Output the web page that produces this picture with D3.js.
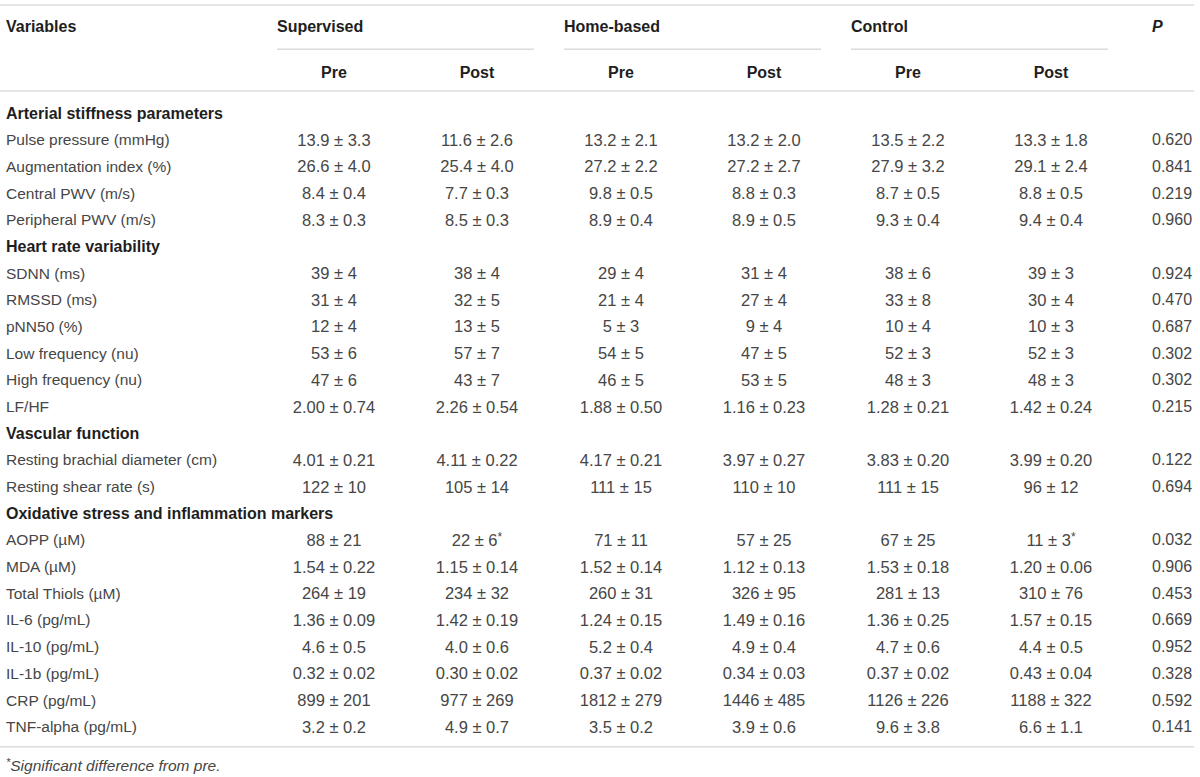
<!DOCTYPE html>
<html>
<head>
<meta charset="utf-8">
<script src="https://cdn.jsdelivr.net/npm/d3@7"></script>
<style>
  body { margin: 0; background: #fff; }
  text { font-family: "Liberation Sans", Arial, sans-serif; }
</style>
</head>
<body>
<div id="table"></div>
<script>
// Table content
const groups = ["Supervised", "Home-based", "Control"];
const phases = ["Pre", "Post"];
const sectionTitles = [
    "Arterial stiffness parameters",
    "Heart rate variability",
    "Vascular function",
    "Oxidative stress and inflammation markers"
];
const sectionSizes = [4, 6, 2, 8];
const variables = [
    "Pulse pressure (mmHg)", "Augmentation index (%)", "Central PWV (m/s)", "Peripheral PWV (m/s)",
    "SDNN (ms)", "RMSSD (ms)", "pNN50 (%)", "Low frequency (nu)", "High frequency (nu)", "LF/HF",
    "Resting brachial diameter (cm)", "Resting shear rate (s)",
    "AOPP (\u00b5M)", "MDA (\u00b5M)", "Total Thiols (\u00b5M)", "IL-6 (pg/mL)", "IL-10 (pg/mL)",
    "IL-1b (pg/mL)", "CRP (pg/mL)", "TNF-alpha (pg/mL)"
];
const supervisedPre = ["13.9 ± 3.3", "26.6 ± 4.0", "8.4 ± 0.4", "8.3 ± 0.3",
    "39 ± 4", "31 ± 4", "12 ± 4", "53 ± 6", "47 ± 6", "2.00 ± 0.74",
    "4.01 ± 0.21", "122 ± 10",
    "88 ± 21", "1.54 ± 0.22", "264 ± 19", "1.36 ± 0.09", "4.6 ± 0.5", "0.32 ± 0.02", "899 ± 201", "3.2 ± 0.2"];
const supervisedPost = ["11.6 ± 2.6", "25.4 ± 4.0", "7.7 ± 0.3", "8.5 ± 0.3",
    "38 ± 4", "32 ± 5", "13 ± 5", "57 ± 7", "43 ± 7", "2.26 ± 0.54",
    "4.11 ± 0.22", "105 ± 14",
    "22 ± 6*", "1.15 ± 0.14", "234 ± 32", "1.42 ± 0.19", "4.0 ± 0.6", "0.30 ± 0.02", "977 ± 269", "4.9 ± 0.7"];
const homePre = ["13.2 ± 2.1", "27.2 ± 2.2", "9.8 ± 0.5", "8.9 ± 0.4",
    "29 ± 4", "21 ± 4", "5 ± 3", "54 ± 5", "46 ± 5", "1.88 ± 0.50",
    "4.17 ± 0.21", "111 ± 15",
    "71 ± 11", "1.52 ± 0.14", "260 ± 31", "1.24 ± 0.15", "5.2 ± 0.4", "0.37 ± 0.02", "1812 ± 279", "3.5 ± 0.2"];
const homePost = ["13.2 ± 2.0", "27.2 ± 2.7", "8.8 ± 0.3", "8.9 ± 0.5",
    "31 ± 4", "27 ± 4", "9 ± 4", "47 ± 5", "53 ± 5", "1.16 ± 0.23",
    "3.97 ± 0.27", "110 ± 10",
    "57 ± 25", "1.12 ± 0.13", "326 ± 95", "1.49 ± 0.16", "4.9 ± 0.4", "0.34 ± 0.03", "1446 ± 485", "3.9 ± 0.6"];
const controlPre = ["13.5 ± 2.2", "27.9 ± 3.2", "8.7 ± 0.5", "9.3 ± 0.4",
    "38 ± 6", "33 ± 8", "10 ± 4", "52 ± 3", "48 ± 3", "1.28 ± 0.21",
    "3.83 ± 0.20", "111 ± 15",
    "67 ± 25", "1.53 ± 0.18", "281 ± 13", "1.36 ± 0.25", "4.7 ± 0.6", "0.37 ± 0.02", "1126 ± 226", "9.6 ± 3.8"];
const controlPost = ["13.3 ± 1.8", "29.1 ± 2.4", "8.8 ± 0.5", "9.4 ± 0.4",
    "39 ± 3", "30 ± 4", "10 ± 3", "52 ± 3", "48 ± 3", "1.42 ± 0.24",
    "3.99 ± 0.20", "96 ± 12",
    "11 ± 3*", "1.20 ± 0.06", "310 ± 76", "1.57 ± 0.15", "4.4 ± 0.5", "0.43 ± 0.04", "1188 ± 322", "6.6 ± 1.1"];
const pValues = ["0.620", "0.841", "0.219", "0.960",
    "0.924", "0.470", "0.687", "0.302", "0.302", "0.215",
    "0.122", "0.694",
    "0.032", "0.906", "0.453", "0.669", "0.952", "0.328", "0.592", "0.141"];
const footnote = "Significant difference from pre.";

const width = 1200, height = 777;
const lineColor = "#dcdcdc", textColor = "#464646", boldColor = "#1e1e1e";

const svg = d3.select("#table").append("svg")
    .attr("width", width)
    .attr("height", height);

// build the body rows: section titles followed by their variables
const rows = [];
let k = 0;
sectionTitles.forEach((title, s) => {
    rows.push({section: true, label: title});
    for (let j = 0; j < sectionSizes[s]; j++, k++) {
        rows.push({
            section: false,
            label: variables[k],
            cells: [supervisedPre[k], supervisedPost[k], homePre[k], homePost[k], controlPre[k], controlPost[k]],
            p: pValues[k]
        });
    }
});

// scales: rows are evenly spaced, columns come from group bands
const yScale = d3.scaleLinear()
    .domain([0, rows.length - 1])
    .range([113, 726.7]);
const groupScale = d3.scaleBand()
    .domain(groups)
    .range([277, 1108])
    .paddingInner(0.1045);
const phaseScale = d3.scalePoint()
    .domain(phases)
    .range([57, 200]);
const colX = (g, ph) => groupScale(g) + phaseScale(ph);
const columns = groups.flatMap(g => phases.map(ph => colX(g, ph)));
const left = 6, pX = 1152, right = 1194;

// horizontal rules
const rule = (x1, x2, y) => svg.append("line")
    .attr("x1", x1).attr("x2", x2).attr("y1", y).attr("y2", y)
    .attr("stroke", lineColor).attr("stroke-width", 1.5);
rule(0, right, 5);
rule(0, right, 91);
rule(0, right, 746.7);
groups.forEach(g => rule(groupScale(g), groupScale(g) + groupScale.bandwidth(), 49.3));

// header
const header = svg.append("g")
    .attr("font-weight", "bold")
    .attr("font-size", "16px")
    .attr("fill", boldColor)
    .attr("dominant-baseline", "central");
header.append("text").attr("x", left).attr("y", 26).text("Variables");
header.selectAll(".grp")
    .data(groups)
    .enter().append("text")
    .attr("class", "grp")
    .attr("x", d => groupScale(d))
    .attr("y", 26)
    .text(d => d);
header.append("text")
    .attr("x", pX).attr("y", 26)
    .attr("font-style", "italic")
    .text("P");
header.selectAll(".phase")
    .data(groups.flatMap(g => phases.map(ph => ({g, ph}))))
    .enter().append("text")
    .attr("class", "phase")
    .attr("x", d => colX(d.g, d.ph))
    .attr("y", 72)
    .attr("text-anchor", "middle")
    .text(d => d.ph);

// body rows
const row = svg.selectAll(".row")
    .data(rows)
    .enter().append("g")
    .attr("class", "row")
    .attr("transform", (d, i) => `translate(0, ${yScale(i)})`);

row.append("text")
    .attr("x", left)
    .attr("dominant-baseline", "central")
    .attr("font-size", d => d.section ? "16px" : "15.5px")
    .attr("font-weight", d => d.section ? "bold" : "normal")
    .attr("fill", d => d.section ? boldColor : textColor)
    .text(d => d.label);

const dataRows = row.filter(d => !d.section);
dataRows.selectAll(".cell")
    .data(d => d.cells)
    .enter().append("text")
    .attr("class", "cell")
    .attr("x", (d, i) => columns[i])
    .attr("dominant-baseline", "central")
    .attr("text-anchor", "middle")
    .attr("font-size", "16.5px")
    .attr("fill", textColor)
    .each(function(d) {
        const t = d3.select(this);
        const star = d.endsWith("*");
        t.append("tspan").text(star ? d.slice(0, -1) : d);
        if (star) {
            t.append("tspan")
                .attr("font-size", "12px")
                .attr("dy", -3)
                .text("*");
        }
    });

dataRows.append("text")
    .attr("x", pX)
    .attr("dominant-baseline", "central")
    .attr("font-size", "16px")
    .attr("fill", textColor)
    .text(d => d.p);

// footnote
const note = svg.append("text")
    .attr("x", left)
    .attr("y", 765)
    .attr("dominant-baseline", "central")
    .attr("font-size", "15.5px")
    .attr("font-style", "italic")
    .attr("fill", textColor);
note.append("tspan").attr("font-size", "11px").attr("dy", -3).text("*");
note.append("tspan").attr("dy", 3).text(footnote);
</script>
</body>
</html>
